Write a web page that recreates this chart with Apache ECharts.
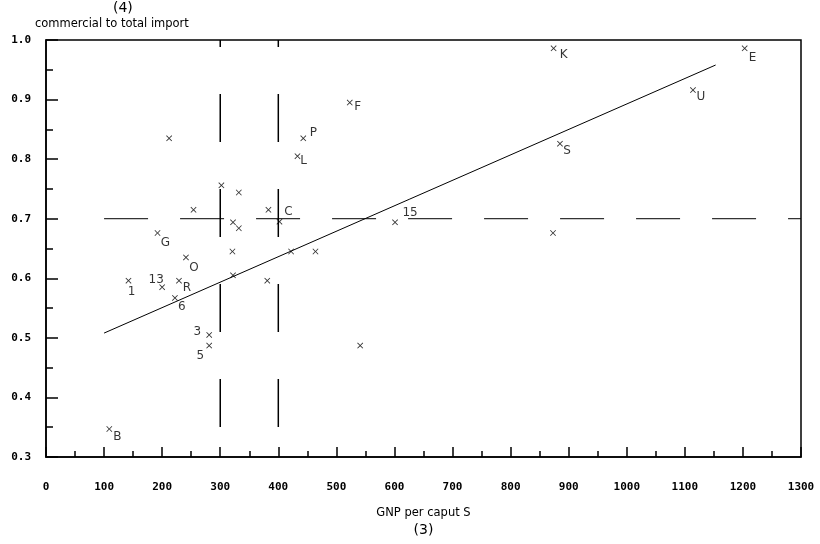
<!DOCTYPE html>
<html>
<head>
<meta charset="utf-8">
<script src="https://cdn.jsdelivr.net/npm/echarts@6/dist/echarts.min.js"></script>
<style>
  html, body { margin: 0; padding: 0; background: #fff; }
  #chart { width: 820px; height: 544px; }
</style>
</head>
<body>
<div id="chart"></div>
<script>
// GNP per caput (x) vs commercial share of total import (y)
const gnp = [212, 523, 443, 433, 302, 332, 254, 383, 402, 322, 332, 192, 321, 422, 464, 601,
  241, 142, 200, 229, 322, 381, 222, 281, 281, 541, 109, 874, 1203, 1114, 885, 873]
const share = [0.835, 0.895, 0.835, 0.805, 0.756, 0.744, 0.715, 0.715, 0.695, 0.694, 0.684, 0.676,
  0.645, 0.645, 0.645, 0.694, 0.635, 0.596, 0.585, 0.596, 0.605, 0.596, 0.567, 0.505, 0.487,
  0.487, 0.347, 0.986, 0.986, 0.916, 0.826, 0.676]
const names = ['', 'F', 'P', 'L', '', '', '', '', 'C', '', '', 'G', '', '', '', '15',
  'O', '1', '13', 'R', '', '', '6', '3', '5', '', 'B', 'K', 'E', 'U', 'S', '']

// regression line end points
const fitX = [100, 1153]
const fitY = [0.508, 0.958]

// dashed reference lines
const refX = [300, 400]
const refY = 0.7
const refYFrom = 100

const xTicks = [0, 1300, 100]
const yTicks = [0.3, 1.0, 0.1]

// where each name sits next to its cross (px)
const labelOffsets = {
  F: [8, 4], P: [10, -5], L: [6, 5], C: [9, -10], '15': [15, -9], G: [8, 10], O: [8, 10],
  '1': [3, 11], '13': [-6, -7], R: [8, 7], '6': [7, 9], '3': [-12, -3], '5': [-9, 10],
  B: [8, 8], K: [10, 7], E: [8, 10], U: [8, 7], S: [7, 7]
}

const cross = 'path://M0,1L1,0L5,4L9,0L10,1L6,5L10,9L9,10L5,6L1,10L0,9L4,5Z'

const points = gnp.map((x, i) => {
  const n = names[i]
  const item = { value: [x, share[i]], name: n }
  if (n) {
    item.label = {
      show: true,
      formatter: n,
      position: 'inside',
      offset: labelOffsets[n],
      color: '#000',
      fontFamily: 'DejaVu Sans',
      fontSize: 12
    }
  }
  return item
})

const refSeries = refX.map(x => ({
  type: 'line',
  data: [[x, yTicks[0]], [x, yTicks[1]]],
  symbol: 'none',
  silent: true,
  lineStyle: { color: '#000', width: 1.5, type: [48, 47], dashOffset: 65 }
}))

const myChart = echarts.init(document.getElementById('chart'))

myChart.setOption({
  animation: false,
  backgroundColor: '#fff',
  grid: {
    left: 46, right: 19, top: 40, bottom: 87,
    show: true, borderColor: '#000', borderWidth: 1.5
  },
  graphic: [
    {
      type: 'text', left: 113, top: 1,
      style: { text: '(4)', fontFamily: 'DejaVu Sans', fontSize: 14, fill: '#000' }
    },
    {
      type: 'text', left: 35, top: 18,
      style: { text: 'commercial to total import', fontFamily: 'DejaVu Sans', fontSize: 11.5, fill: '#000' }
    }
  ],
  xAxis: {
    type: 'value',
    min: xTicks[0], max: xTicks[1], interval: xTicks[2],
    name: '{a|GNP per caput S}\n{b|(3)}',
    nameLocation: 'middle',
    nameGap: 48,
    nameTextStyle: {
      rich: {
        a: { fontFamily: 'DejaVu Sans', fontSize: 11.5, color: '#000', lineHeight: 16 },
        b: { fontFamily: 'DejaVu Sans', fontSize: 14, color: '#000', lineHeight: 18 }
      }
    },
    axisLine: { lineStyle: { color: '#000', width: 1.5 } },
    axisTick: { inside: true, length: 10, lineStyle: { color: '#000', width: 1.5 } },
    minorTick: { show: true, splitNumber: 2, length: 6, lineStyle: { color: '#000', width: 1.5 } },
    axisLabel: {
      margin: 25, color: '#000', fontFamily: 'DejaVu Sans Mono', fontSize: 11, fontWeight: 'bold',
      formatter: v => String(v)
    },
    splitLine: { show: false }
  },
  yAxis: {
    type: 'value',
    min: yTicks[0], max: yTicks[1], interval: yTicks[2],
    axisLine: { show: true, lineStyle: { color: '#000', width: 1.5 } },
    axisTick: { show: true, inside: true, length: 12, lineStyle: { color: '#000', width: 1.5 } },
    minorTick: { show: true, splitNumber: 2, length: 7, lineStyle: { color: '#000', width: 1.5 } },
    axisLabel: {
      margin: 15, color: '#000', fontFamily: 'DejaVu Sans Mono', fontSize: 11, fontWeight: 'bold',
      formatter: v => v.toFixed(1)
    },
    splitLine: { show: false }
  },
  series: [
    {
      type: 'line',
      data: [[refYFrom, refY], [xTicks[1], refY]],
      symbol: 'none',
      silent: true,
      lineStyle: { color: '#000', width: 1, type: [44, 32] }
    },
    ...refSeries,
    {
      type: 'line',
      data: [[fitX[0], fitY[0]], [fitX[1], fitY[1]]],
      symbol: 'none',
      silent: true,
      lineStyle: { color: '#000', width: 1 }
    },
    {
      type: 'scatter',
      data: points,
      symbol: cross,
      symbolSize: 6,
      itemStyle: { color: '#000' }
    }
  ]
})
</script>
</body>
</html>
